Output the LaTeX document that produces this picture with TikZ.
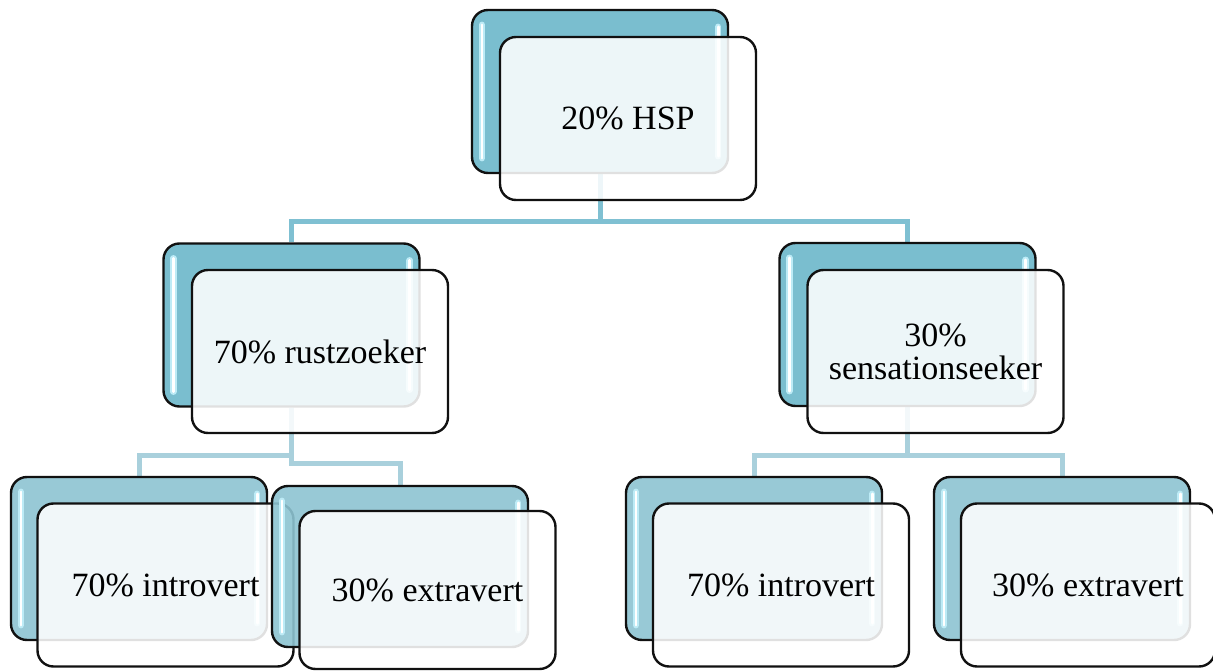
\documentclass[tikz,border=0pt]{standalone}
\usepackage{fontspec}
\setmainfont{Liberation Serif}
\usetikzlibrary{calc}

\definecolor{backdark}{HTML}{6BB7CA}
\definecolor{backlight}{HTML}{8DC3D1}
\definecolor{linedark}{HTML}{7FC0D2}
\definecolor{linelight}{HTML}{A9D0DC}
\definecolor{glint}{HTML}{BDEBF6}
\definecolor{rim}{HTML}{111111}

\tikzset{
  backbox/.style={rectangle, rounded corners=16pt, draw=rim, line width=2.4pt,
    minimum width=256pt, minimum height=163pt, inner sep=0pt,
    fill=#1, fill opacity=0.9, draw opacity=1},
  frontbox/.style={rectangle, rounded corners=16pt, draw=rim, line width=2.4pt,
    minimum width=256pt, minimum height=163pt, inner sep=0pt,
    fill=white, fill opacity=0.87, draw opacity=1, text opacity=1,
    align=center, font=\fontsize{34}{33}\selectfont},
  wire/.style={line width=5pt, draw=#1},
  glintwide/.style={line width=6.5pt, draw=glint, line cap=round},
  glintcore/.style={line width=2.6pt, draw=white, line cap=round},
}

% glossy vertical strips inside a back panel
\newcommand\glossbars[1]{%
  \draw[glintwide] ($(#1.north west)+(11,16)$) -- ($(#1.south west)+(11,-16)$);
  \draw[glintcore] ($(#1.north west)+(11,16)$) -- ($(#1.south west)+(11,-16)$);
  \draw[glintwide] ($(#1.north east)+(-11,18)$) -- ($(#1.south east)+(-11,-18)$);
  \draw[glintcore] ($(#1.north east)+(-11,18)$) -- ($(#1.south east)+(-11,-18)$);
}

\begin{document}
\begin{tikzpicture}[x=1pt,y=-1pt]
\useasboundingbox (0,0) rectangle (1213,671);

% ---- panel positions (back panels carry the connectors) ----
\path
  (600,91.5)    coordinate (pTop)
  (291.5,325)   coordinate (pRust)
  (907.5,324.5) coordinate (pSens)
  (139,558.5)   coordinate (pIntA)
  (400,566.5)   coordinate (pExtA)
  (754,558.5)   coordinate (pIntB)
  (1062,558.5)  coordinate (pExtB);

% back panels are placed first so connectors can refer to them;
% they are drawn on top later, in pairs with the front panels
\path
  (pTop)  node[backbox=backdark, draw=none, fill=none] (topB) {}
  (pRust) node[backbox=backdark, draw=none, fill=none] (rustB) {}
  (pSens) node[backbox=backdark, draw=none, fill=none] (sensB) {}
  (pIntA) node[backbox=backlight, draw=none, fill=none] (intaB) {}
  (pExtA) node[backbox=backlight, draw=none, fill=none, minimum height=161pt] (extaB) {}
  (pIntB) node[backbox=backlight, draw=none, fill=none] (intbB) {}
  (pExtB) node[backbox=backlight, draw=none, fill=none] (extbB) {};

% ---- connectors ----
\coordinate (busTop) at (600,222);
\draw[wire=linedark] (topB.south) -- (busTop);
\draw[wire=linedark] (rustB.north) |- (busTop) -| (sensB.north);

\coordinate (busRustHi) at (291.5,455);
\coordinate (busRustLo) at (291.5,463);
\draw[wire=linelight] (rustB.south) -- (busRustLo) -| (extaB.north);
\draw[wire=linelight] (intaB.north) |- (busRustHi);

\coordinate (busSens) at (907.5,455);
\draw[wire=linelight] (sensB.south) -- (busSens);
\draw[wire=linelight] (intbB.north) |- (busSens) -| (extbB.north);

% ---- panel pairs ----
\node[backbox=backdark] (topK) at (pTop) {};
\glossbars{topK}
\node[frontbox] (topF) at ($(pTop)+(28,27)$) {20\% HSP};

\node[backbox=backdark] (rustK) at (pRust) {};
\glossbars{rustK}
\node[frontbox] (rustF) at ($(pRust)+(28.5,26.5)$) {70\% rustzoeker};

\node[backbox=backdark] (sensK) at (pSens) {};
\glossbars{sensK}
\node[frontbox] (sensF) at ($(pSens)+(28,27)$) {30\%\\sensationseeker};

\node[backbox=backlight] (intaK) at (pIntA) {};
\glossbars{intaK}
\node[frontbox] (intaF) at ($(pIntA)+(26.5,26.5)$) {70\% introvert};

\node[backbox=backlight, minimum height=161pt] (extaK) at (pExtA) {};
\glossbars{extaK}
\node[frontbox, minimum height=158pt] (extaF) at ($(pExtA)+(27.5,23.5)$) {30\% extravert};

\node[backbox=backlight] (intbK) at (pIntB) {};
\glossbars{intbK}
\node[frontbox] (intbF) at ($(pIntB)+(27,26.5)$) {70\% introvert};

\node[backbox=backlight] (extbK) at (pExtB) {};
\glossbars{extbK}
\node[frontbox, minimum width=254pt] (extbF) at ($(pExtB)+(26,26.5)$) {30\% extravert};
\end{tikzpicture}
\end{document}
